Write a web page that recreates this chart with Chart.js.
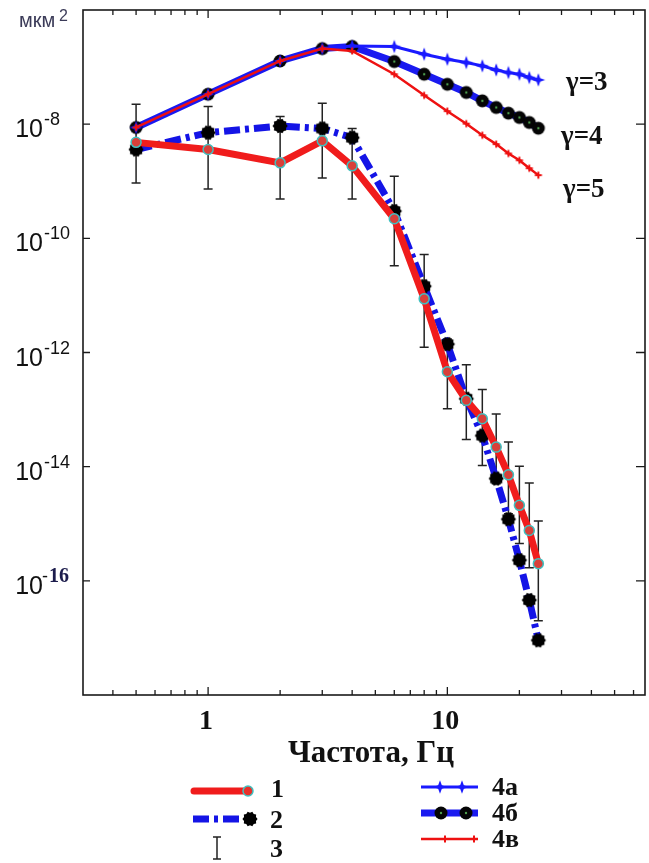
<!DOCTYPE html>
<html><head><meta charset="utf-8">
<script src="https://cdn.jsdelivr.net/npm/chart.js@4.4.0/dist/chart.umd.min.js"></script>
<style>html,body{margin:0;padding:0;background:#fff;}</style>
</head><body>
<canvas id="c" width="649" height="863"></canvas>
<script>
// ---- data ----
const freqExp = [0.5, 1, 2, 3, 4, 6, 8, 10, 12, 14, 16, 18, 20, 22, 24];
const series1 = [4.8e-9, 3.6e-9, 2.1e-9, 5.1e-9, 1.86e-9, 2.2e-10, 8.7e-12, 4.6e-13, 1.45e-13, 6.9e-14, 2.2e-14, 7.2e-15, 2.1e-15, 7.6e-16, 2.0e-16];
const series2 = [3.6e-9, 7.1e-9, 9.3e-9, 8.4e-9, 5.8e-9, 3.0e-10, 1.45e-11, 1.4e-12, 1.55e-13, 3.5e-14, 6.2e-15, 1.2e-15, 2.3e-16, 4.6e-17, 9.1e-18];
const errHigh = [2.24e-8, 2.04e-8, 1.36e-8, 2.33e-8, 8.4e-9, 1.22e-9, 5.2e-11, 1.73e-12, 6.1e-13, 2.24e-13, 8.4e-14, 2.7e-14, 1.02e-14, 5.2e-15, 1.12e-15];
const errLow  = [9.3e-10, 7.3e-10, 4.9e-10, 1.14e-9, 4.9e-10, 3.3e-11, 1.24e-12, 1.03e-13, 3.0e-14, 1.05e-14, 5.0e-15, 1.5e-15, 4.5e-16, 1.7e-16, 2.0e-17];
const freqModel = [0.5, 1, 2, 3, 4, 6, 8, 10, 12, 14, 16, 18, 20, 22, 24];
const model4a = [8.75e-9, 3.35e-8, 1.28e-7, 2.11e-7, 2.34e-7, 2.29e-7, 1.68e-7, 1.37e-7, 1.20e-7, 1.05e-7, 8.9e-8, 8.0e-8, 7.5e-8, 6.56e-8, 5.96e-8];
const model4b = [8.75e-9, 3.35e-8, 1.28e-7, 2.11e-7, 2.30e-7, 1.25e-7, 7.5e-8, 5.0e-8, 3.59e-8, 2.56e-8, 1.96e-8, 1.56e-8, 1.31e-8, 1.07e-8, 8.5e-9];
const model4c = [8.75e-9, 3.35e-8, 1.28e-7, 2.11e-7, 1.92e-7, 7.5e-8, 3.2e-8, 1.69e-8, 1.02e-8, 6.4e-9, 4.47e-9, 3.07e-9, 2.33e-9, 1.69e-9, 1.28e-9];
const yTickExps = [-8, -10, -12, -14, -16];
const xTickLabels = [1, 10];
const xMinorTicks = [0.4, 0.5, 0.6, 0.7, 0.8, 0.9, 2, 3, 4, 5, 6, 7, 8, 9, 20, 30, 40, 50, 60];
const xTitle = 'Частота, Гц';
const yUnit = 'мкм';
const legendLabels = ['1', '2', '3', '4а', '4б', '4в'];
const gammaLabels = ['γ=3', 'γ=4', 'γ=5'];

// ---- marker images ----
function mk(size, draw) {
  const c = document.createElement('canvas');
  c.width = c.height = size;
  draw(c.getContext('2d'), size / 2);
  return c;
}
const gearMark = mk(18, (g, h) => {
  g.beginPath();
  const n = 20;
  for (let i = 0; i < n; i++) {
    const a = i * Math.PI * 2 / n;
    const r = i % 2 ? 6.3 : 7.6;
    g.lineTo(h + r * Math.cos(a), h + r * Math.sin(a));
  }
  g.closePath(); g.fillStyle = '#000'; g.fill();
});
const circ4b = mk(16, (g, h) => {
  g.beginPath(); g.arc(h, h, 6.5, 0, Math.PI * 2); g.fillStyle = '#050505'; g.fill();
  g.beginPath(); g.arc(h, h, 1.2, 0, Math.PI * 2); g.fillStyle = '#4fa04f'; g.fill();
});
const star4a = mk(16, (g, h) => {
  g.beginPath();
  for (let i = 0; i < 8; i++) {
    const a = i * Math.PI / 4 - Math.PI / 2;
    const r = i % 2 ? 2.6 : 6.8;
    g.lineTo(h + r * Math.cos(a), h + r * Math.sin(a));
  }
  g.closePath(); g.fillStyle = '#1a1aff'; g.fill();
});
const cross4c = mk(10, (g, h) => {
  g.strokeStyle = '#ee1111'; g.lineWidth = 2;
  g.beginPath(); g.moveTo(h - 3.5, h); g.lineTo(h + 3.5, h); g.moveTo(h, h - 3.5); g.lineTo(h, h + 3.5); g.stroke();
});

const pts = (xs, ys) => xs.map((x, i) => ({ x: x, y: ys[i] }));

const datasets = [
  { label: legendLabels[0], data: pts(freqExp, series1), order: 0,
    borderColor: '#f01c1c', borderWidth: 7, pointStyle: 'circle', pointRadius: 5,
    pointBackgroundColor: '#d8403a', pointBorderColor: '#40c0c0', pointBorderWidth: 1.5 },
  { label: legendLabels[1], data: pts(freqExp, series2), order: 1,
    borderColor: '#1414e6', borderWidth: 7, borderDash: [16, 5, 4, 5], pointStyle: gearMark, pointRadius: 7 },
  { label: legendLabels[5], data: pts(freqModel, model4c), order: 2,
    borderColor: '#ee1111', borderWidth: 2.5, pointStyle: cross4c, pointRadius: 4 },
  { label: legendLabels[3], data: pts(freqModel, model4a), order: 3,
    borderColor: '#1a1aff', borderWidth: 3, pointStyle: star4a, pointRadius: 6 },
  { label: legendLabels[4], data: pts(freqModel, model4b), order: 4,
    borderColor: '#1a1af0', borderWidth: 7, pointStyle: circ4b, pointRadius: 6 }
];

const decor = {
  id: 'decor',
  beforeDatasetsDraw(chart) {
    const { ctx } = chart, xs = chart.scales.x, ys = chart.scales.y;
    ctx.save();
    ctx.strokeStyle = '#222'; ctx.lineWidth = 1.5;
    freqExp.forEach((f, i) => {
      const x = xs.getPixelForValue(f);
      const y1 = ys.getPixelForValue(errHigh[i]), y2 = ys.getPixelForValue(errLow[i]);
      ctx.beginPath();
      ctx.moveTo(x, y1); ctx.lineTo(x, y2);
      ctx.moveTo(x - 4.5, y1); ctx.lineTo(x + 4.5, y1);
      ctx.moveTo(x - 4.5, y2); ctx.lineTo(x + 4.5, y2);
      ctx.stroke();
    });
    ctx.restore();
  },
  afterDraw(chart) {
    const { ctx, chartArea: a } = chart, xs = chart.scales.x, ys = chart.scales.y;
    ctx.save();
    // frame
    ctx.strokeStyle = '#1a1a1a'; ctx.lineWidth = 1.6;
    ctx.strokeRect(a.left, a.top, a.right - a.left, a.bottom - a.top);
    // x ticks (top & bottom, inward)
    ctx.lineWidth = 1.3;
    const xt = xMinorTicks.map(v => [v, 5]).concat(xTickLabels.map(v => [v, 8]));
    xt.forEach(([v, len]) => {
      const x = xs.getPixelForValue(v);
      ctx.beginPath();
      ctx.moveTo(x, a.bottom); ctx.lineTo(x, a.bottom - len);
      ctx.moveTo(x, a.top); ctx.lineTo(x, a.top + len);
      ctx.stroke();
    });
    // y ticks
    yTickExps.forEach(e => {
      const y = ys.getPixelForValue(Math.pow(10, e));
      ctx.beginPath();
      ctx.moveTo(a.left, y); ctx.lineTo(a.left + 7, y);
      ctx.moveTo(a.right, y); ctx.lineTo(a.right - 9, y);
      ctx.stroke();
    });
    // y tick labels
    ctx.fillStyle = '#111';
    yTickExps.forEach(e => {
      const y = ys.getPixelForValue(Math.pow(10, e));
      ctx.font = '25px "Liberation Sans", Arial, sans-serif';
      ctx.textAlign = 'right'; ctx.textBaseline = 'alphabetic';
      ctx.fillStyle = '#111';
      ctx.fillText('10', 43, y + 13);
      ctx.textAlign = 'left';
      if (e === -16) {
        ctx.font = '18px "Liberation Sans", Arial, sans-serif';
        ctx.fillText('-', 42, y + 1);
        ctx.font = 'bold 20px "Liberation Serif", "Times New Roman", serif';
        ctx.fillStyle = '#1c1c4c';
        ctx.fillText('16', 49, y + 1);
      } else {
        ctx.font = '18px "Liberation Sans", Arial, sans-serif';
        ctx.fillText(String(e), 44, y + 1);
      }
    });
    // y unit
    ctx.fillStyle = '#3b3b58';
    ctx.font = '20px "Liberation Sans", Arial, sans-serif';
    ctx.textAlign = 'left';
    ctx.fillText(yUnit, 19, 27);
    ctx.font = '16px "Liberation Sans", Arial, sans-serif';
    ctx.fillText('2', 59, 21);
    // x tick labels
    ctx.fillStyle = '#111';
    ctx.font = 'bold 28px "Liberation Serif", "Times New Roman", serif';
    ctx.textAlign = 'center';
    xTickLabels.forEach(v => ctx.fillText(String(v), xs.getPixelForValue(v) - 2, 729));
    // x title
    ctx.font = 'bold 31px "Liberation Serif", "Times New Roman", serif';
    ctx.fillText(xTitle, 371, 762);
    // gamma labels
    ctx.font = 'bold 27px "Liberation Serif", "Times New Roman", serif';
    ctx.textAlign = 'left';
    ctx.fillText(gammaLabels[0], 566, 90);
    ctx.fillText(gammaLabels[1], 561, 144);
    ctx.fillText(gammaLabels[2], 563, 197);

    // legend
    const ds = chart.data.datasets;
    const line = (x1, x2, y, d) => {
      ctx.save();
      ctx.strokeStyle = d.borderColor; ctx.lineWidth = d.borderWidth;
      ctx.setLineDash(d.borderDash || []);
      ctx.beginPath(); ctx.moveTo(x1, y); ctx.lineTo(x2, y); ctx.stroke();
      ctx.restore();
    };
    const img = (im, x, y) => ctx.drawImage(im, x - im.width / 2, y - im.height / 2);
    // 1
    ctx.lineCap = 'round';
    line(194, 246, 791, ds[0]);
    ctx.lineCap = 'butt';
    ctx.beginPath(); ctx.arc(248, 791, 5, 0, Math.PI * 2);
    ctx.fillStyle = '#e8302a'; ctx.fill(); ctx.strokeStyle = '#40c0c0'; ctx.lineWidth = 1.5; ctx.stroke();
    // 2
    line(193, 246, 819, ds[1]);
    img(gearMark, 250, 819);
    // 3
    ctx.strokeStyle = '#222'; ctx.lineWidth = 1.5;
    ctx.beginPath();
    ctx.moveTo(217, 837); ctx.lineTo(217, 859);
    ctx.moveTo(213, 837); ctx.lineTo(221, 837);
    ctx.moveTo(213, 859); ctx.lineTo(221, 859);
    ctx.stroke();
    // 4a, 4b, 4c
    line(421, 478, 787, ds[3]); img(star4a, 440, 787); img(star4a, 462, 787);
    line(421, 478, 813, ds[4]); img(circ4b, 441, 813); img(circ4b, 466, 813);
    line(421, 478, 839, ds[2]); img(cross4c, 445, 839); img(cross4c, 474, 839);
    // legend labels
    ctx.fillStyle = '#111';
    ctx.font = 'bold 26px "Liberation Serif", "Times New Roman", serif';
    ctx.textAlign = 'left';
    ctx.fillText(legendLabels[0], 271, 797);
    ctx.fillText(legendLabels[1], 270, 828);
    ctx.fillText(legendLabels[2], 270, 857);
    ctx.fillText(legendLabels[3], 492, 795);
    ctx.fillText(legendLabels[4], 492, 821);
    ctx.fillText(legendLabels[5], 492, 847);
    ctx.restore();
  }
};

new Chart(document.getElementById('c'), {
  type: 'line',
  data: { datasets: datasets },
  options: {
    responsive: false, animation: false, devicePixelRatio: 1,
    layout: { autoPadding: false, padding: { left: 83, top: 10, right: 4, bottom: 168 } },
    plugins: { legend: { display: false }, tooltip: { enabled: false } },
    elements: { line: { tension: 0, fill: false }, point: { hoverRadius: 0 } },
    scales: {
      x: { type: 'logarithmic', min: 0.319, max: 67, display: false },
      y: { type: 'logarithmic', min: 1e-18, max: 1e-6, display: false }
    }
  },
  plugins: [decor]
});
</script>
</body></html>
